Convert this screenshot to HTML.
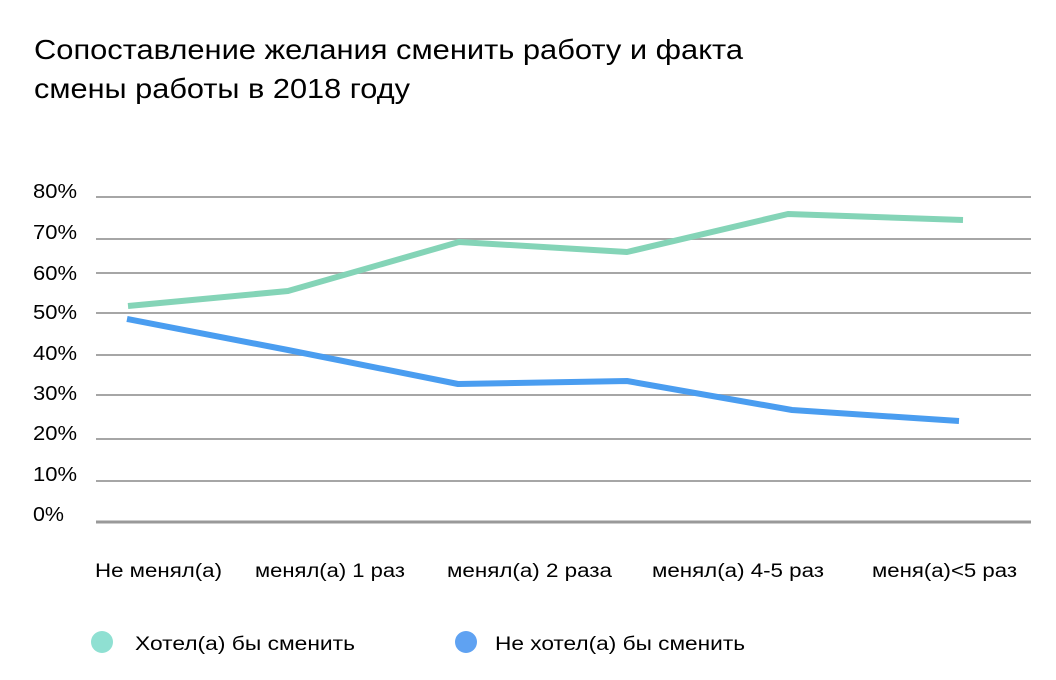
<!DOCTYPE html>
<html><head><meta charset="utf-8"><style>
html,body{margin:0;padding:0;background:#fff;}
svg{display:block;}
text{font-family:"Liberation Sans",Arial,sans-serif;fill:#000;}
</style></head><body>
<svg width="1056" height="680" viewBox="0 0 1056 680" xmlns="http://www.w3.org/2000/svg">
<rect width="1056" height="680" fill="#fff"/>
<text x="34" y="59" font-size="28" textLength="709" lengthAdjust="spacingAndGlyphs">Сопоставление желания сменить работу и факта</text>
<text x="34" y="98" font-size="28" textLength="376" lengthAdjust="spacingAndGlyphs">смены работы в 2018 году</text>
<g stroke="#a6a6a6" stroke-width="2">
<line x1="96" y1="197" x2="1031" y2="197"/>
<line x1="96" y1="239" x2="1031" y2="239"/>
<line x1="96" y1="273" x2="1031" y2="273"/>
<line x1="96" y1="313" x2="1031" y2="313"/>
<line x1="96" y1="355" x2="1031" y2="355"/>
<line x1="96" y1="395" x2="1031" y2="395"/>
<line x1="96" y1="439" x2="1031" y2="439"/>
<line x1="96" y1="481" x2="1031" y2="481"/>
</g>
<line x1="96" y1="522" x2="1031" y2="522" stroke="#999" stroke-width="3"/>
<g font-size="20">
<text x="33" y="198" textLength="44" lengthAdjust="spacingAndGlyphs">80%</text>
<text x="33" y="239" textLength="44" lengthAdjust="spacingAndGlyphs">70%</text>
<text x="33" y="280" textLength="44" lengthAdjust="spacingAndGlyphs">60%</text>
<text x="33" y="319" textLength="44" lengthAdjust="spacingAndGlyphs">50%</text>
<text x="33" y="360" textLength="44" lengthAdjust="spacingAndGlyphs">40%</text>
<text x="33" y="400" textLength="44" lengthAdjust="spacingAndGlyphs">30%</text>
<text x="33" y="440" textLength="44" lengthAdjust="spacingAndGlyphs">20%</text>
<text x="33" y="481" textLength="44" lengthAdjust="spacingAndGlyphs">10%</text>
<text x="33" y="521" textLength="31" lengthAdjust="spacingAndGlyphs">0%</text>
</g>
<polyline points="128,306 288,291 459,242 627,252 788,214 963,220" fill="none" stroke="#84d4b7" stroke-width="6" stroke-linejoin="round"/>
<polyline points="127,319 288,350 458,384 627,381 792,410 959,421" fill="none" stroke="#4a9df0" stroke-width="6" stroke-linejoin="round"/>
<g font-size="19">
<text x="95" y="577" textLength="127" lengthAdjust="spacingAndGlyphs">Не менял(а)</text>
<text x="255" y="577" textLength="150" lengthAdjust="spacingAndGlyphs">менял(а) 1 раз</text>
<text x="447" y="577" textLength="165" lengthAdjust="spacingAndGlyphs">менял(а) 2 раза</text>
<text x="652" y="577" textLength="172" lengthAdjust="spacingAndGlyphs">менял(а) 4-5 раз</text>
<text x="872" y="577" textLength="145" lengthAdjust="spacingAndGlyphs">меня(а)&lt;5 раз</text>
</g>
<circle cx="102" cy="642" r="11" fill="#8fe0d2"/>
<text x="135" y="650" font-size="19" textLength="220" lengthAdjust="spacingAndGlyphs">Хотел(а) бы сменить</text>
<circle cx="466" cy="642" r="11" fill="#5fa2f2"/>
<text x="495" y="650" font-size="19" textLength="250" lengthAdjust="spacingAndGlyphs">Не хотел(а) бы сменить</text>
</svg>
</body></html>
